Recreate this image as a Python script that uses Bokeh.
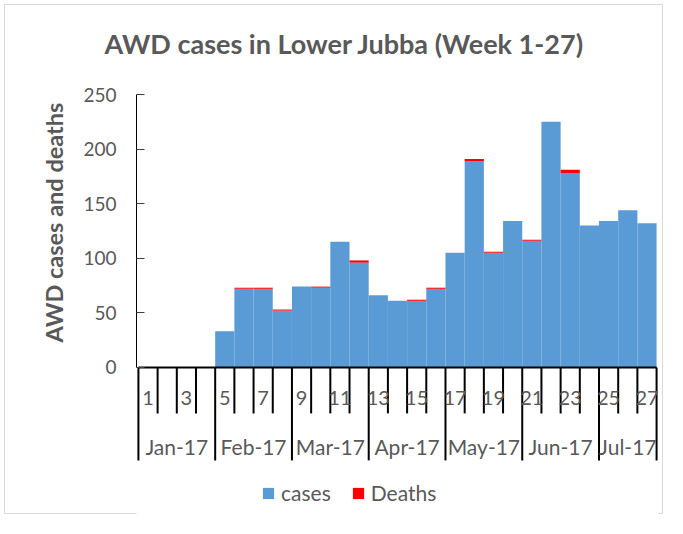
import numpy as np
from bokeh.plotting import figure
from bokeh.models import ColumnDataSource, Range1d, FixedTicker, Title
from bokeh.embed import file_html
from bokeh.resources import INLINE
from bokeh.core.properties import value

# ---------------- data ----------------
weeks = list(range(1, 28))
cases = [0, 0, 0, 0, 33, 72, 72, 52, 74, 73, 115, 96, 66, 61, 61, 72,
         105, 189, 105, 134, 116, 225, 178, 130, 134, 144, 132]
deaths = [0, 0, 0, 0, 0, 1, 1, 1, 0, 1, 0, 2, 0, 0, 1, 1,
          0, 2, 1, 0, 1, 0, 3, 0, 0, 0, 0]
week_labels = [str(w) if w % 2 == 1 else "" for w in weeks]
months = ["Jan-17", "Feb-17", "Mar-17", "Apr-17", "May-17", "Jun-17", "Jul-17"]
month_week_counts = [4, 4, 4, 4, 4, 4, 3]
y_ticks = [0, 50, 100, 150, 200, 250]

# ---------------- style ----------------
BLUE = "#5B9BD5"
RED = "#FF0000"
TXT = "#595959"
FONT = "Lato"

W, H = 667, 518
TOP, BOTTOM, LEFT, RIGHT = 94, 2, 136, 9
Y_MAX = 250
Y_MIN = -136.6
PXU = (H - TOP - BOTTOM) / (Y_MAX - Y_MIN)   # pixels per data unit

p = figure(width=W, height=H, x_range=Range1d(0.4, 27.6), y_range=Range1d(Y_MIN, Y_MAX),
           output_backend="svg", toolbar_location=None, x_axis_location=None,
           min_border_left=LEFT, min_border_right=RIGHT, min_border_top=TOP,
           min_border_bottom=BOTTOM)
p.outline_line_color = None
p.grid.grid_line_color = None
p.background_fill_color = "white"
p.border_fill_alpha = 0
p.styles = {"background-color": "white",
            "box-shadow": "inset 0 0 0 4px white, inset 0 0 0 5px #D9D9D9"}

src = ColumnDataSource(dict(week=weeks, cases=cases, deaths=deaths))
p.vbar_stack(["cases", "deaths"], x="week", width=1.0, source=src,
             fill_color=[BLUE, RED], line_color=None,
             legend_label=["cases", "Deaths"])

# category axis drawn below the zero line
tick_len = 46 / PXU
sep_len = 93 / PXU
n = len(weeks)
bounds = [w - 0.5 for w in weeks] + [weeks[-1] + 0.5]
month_edges = [0.5 + s for s in np.cumsum([0] + month_week_counts)]
wk_b = [b for b in bounds if b not in month_edges]
p.segment(x0=wk_b, y0=[0] * len(wk_b), x1=wk_b, y1=[-tick_len] * len(wk_b),
          line_color="black", line_width=2)
p.segment(x0=month_edges, y0=[0] * len(month_edges), x1=month_edges,
          y1=[-sep_len] * len(month_edges), line_color="black", line_width=2)
p.segment(x0=[bounds[0]], y0=[0], x1=[bounds[-1]], y1=[0], line_color="black", line_width=2)

p.text(x=weeks, y=[-31 / PXU] * n, text=week_labels, text_align="center",
       text_baseline="middle", text_font=value(FONT), text_font_size="20px", text_color=TXT)
month_centers = [(a + b) / 2 for a, b in zip(month_edges[:-1], month_edges[1:])]
p.text(x=month_centers, y=[-79 / PXU] * len(months), text=months, text_align="center",
       text_baseline="middle", text_font=value(FONT), text_font_size="21px", text_color=TXT)

# y axis
ax = p.yaxis[0]
ax.ticker = FixedTicker(ticks=y_ticks)
ax.bounds = (0, Y_MAX)
ax.axis_line_color = "black"
ax.major_tick_in = 8
ax.major_tick_out = 0
ax.major_tick_line_color = "#404040"
ax.minor_tick_line_color = None
ax.major_label_standoff = 20
ax.major_label_text_font = FONT
ax.major_label_text_font_size = "19px"
ax.major_label_text_color = TXT

p.add_layout(Title(text="AWD cases and deaths", align="left", offset=174, standoff=26,
                   text_font=FONT, text_font_size="23.5px", text_font_style="bold",
                   text_color=TXT), "left")

# spacer between frame and the main title
p.add_layout(Title(text=" ", text_font_size="1px", standoff=27), "above")

p.title.text = "AWD cases in Lower Jubba (Week 1-27)"
p.title.align = "left"
p.title.offset = -32
p.title.standoff = 10
p.title.text_font = FONT
p.title.text_font_size = "27px"
p.title.text_font_style = "bold"
p.title.text_color = TXT

lg = p.legend[0]
lg.location = (125, 11)
lg.orientation = "horizontal"
lg.margin = 0
lg.padding = 0
lg.spacing = 20
lg.glyph_width = 14
lg.glyph_height = 14
lg.label_standoff = 6
lg.label_text_font = FONT
lg.label_text_font_size = "21px"
lg.label_text_color = TXT
lg.border_line_color = None
lg.background_fill_alpha = 0

open("out.html", "w").write(file_html(p, INLINE))
